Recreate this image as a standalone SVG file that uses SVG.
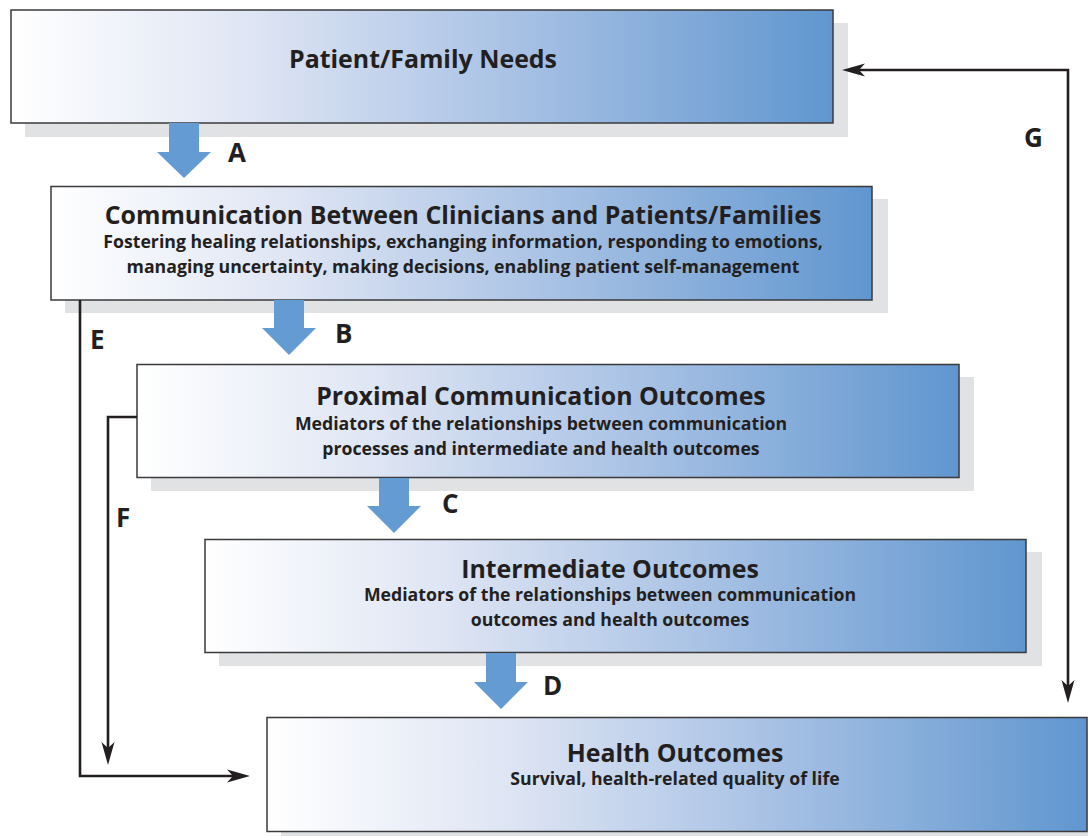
<svg xmlns="http://www.w3.org/2000/svg" width="1088" height="836" viewBox="0 0 1088 836">
  <style>
    .shadow { fill: #e1e2e4; }
    .box { fill: url(#grad); stroke: #3a3a3c; stroke-width: 1.5; }
    .title { font-family: "Open Sans", "Liberation Sans", sans-serif; font-weight: 700; font-size: 24.9px; fill: #231f20; text-anchor: middle; }
    .sub { font-family: "Open Sans", "Liberation Sans", sans-serif; font-weight: 700; font-size: 17.7px; fill: #231f20; text-anchor: middle; }
    .lbl { font-family: "Open Sans", "Liberation Sans", sans-serif; font-weight: 700; font-size: 26px; fill: #231f20; }
    .block { fill: #659bd3; }
    .line { fill: none; stroke: #231f20; stroke-width: 2.6; }
  </style>
  <defs>
    <linearGradient id="grad" x1="0" y1="0" x2="1" y2="0">
      <stop offset="0" stop-color="#ffffff"/>
      <stop offset="0.3" stop-color="#dde4f3"/>
      <stop offset="0.6" stop-color="#aac3e5"/>
      <stop offset="1" stop-color="#6096cf"/>
    </linearGradient>
    <marker id="arr" markerUnits="userSpaceOnUse" viewBox="0 -7 24 14" refX="8" refY="0" markerWidth="24" markerHeight="14" orient="auto-start-reverse">
      <path d="M23,0 L0,-6.5 L6,0 L0,6.5 Z" fill="#231f20"/>
    </marker>
  </defs>

  <g id="node-needs">
    <rect class="shadow" x="25" y="23" width="823" height="114"/>
    <rect class="box" x="11" y="10" width="822" height="113"/>
    <text class="title" x="423" y="68">Patient/Family Needs</text>
  </g>

  <g id="node-communication">
    <rect class="shadow" x="65" y="199" width="823" height="114"/>
    <rect class="box" x="51" y="186.5" width="821" height="113.5"/>
    <text class="title" x="463" y="224">Communication Between Clinicians and Patients/Families</text>
    <text class="sub" x="463" y="248">Fostering healing relationships, exchanging information, responding to emotions,</text>
    <text class="sub" x="463" y="273">managing uncertainty, making decisions, enabling patient self-management</text>
  </g>

  <g id="node-proximal">
    <rect class="shadow" x="151" y="377" width="823" height="114"/>
    <rect class="box" x="137" y="364.5" width="822" height="113"/>
    <text class="title" x="541" y="405">Proximal Communication Outcomes</text>
    <text class="sub" x="541" y="430">Mediators of the relationships between communication</text>
    <text class="sub" x="541" y="455">processes and intermediate and health outcomes</text>
  </g>

  <g id="node-intermediate">
    <rect class="shadow" x="219" y="552" width="823" height="114"/>
    <rect class="box" x="205" y="539.5" width="821" height="113"/>
    <text class="title" x="610" y="578">Intermediate Outcomes</text>
    <text class="sub" x="610" y="601">Mediators of the relationships between communication</text>
    <text class="sub" x="610" y="626">outcomes and health outcomes</text>
  </g>

  <g id="node-health">
    <rect class="shadow" x="281" y="730" width="821" height="115"/>
    <rect class="box" x="267" y="717.5" width="820" height="114"/>
    <text class="title" x="675" y="762">Health Outcomes</text>
    <text class="sub" x="675" y="785">Survival, health-related quality of life</text>
  </g>

  <g id="connectors">
    <polygon class="block" points="169,123 199,123 199,152 211,152 184,178 157,152 169,152"/>
    <polygon class="block" points="274,300 304,300 304,328 316,328 289,355 262,328 274,328"/>
    <polygon class="block" points="379,478 409,478 409,506 421,506 394,533 367,506 379,506"/>
    <polygon class="block" points="486,653 516,653 516,682 528,682 501,709 474,682 486,682"/>
    <path class="line" d="M80,300 L80,776 L235,776" marker-end="url(#arr)"/>
    <path class="line" d="M137,417 L108,417 L108,750" marker-end="url(#arr)"/>
    <path class="line" d="M1068,688 L1068,70 L857,70" marker-start="url(#arr)" marker-end="url(#arr)"/>
    <text class="lbl" x="228" y="162">A</text>
    <text class="lbl" x="335" y="343">B</text>
    <text class="lbl" x="442" y="513">C</text>
    <text class="lbl" x="543" y="695">D</text>
    <text class="lbl" x="90" y="349">E</text>
    <text class="lbl" x="116" y="527">F</text>
    <text class="lbl" x="1024" y="147">G</text>
  </g>
</svg>
